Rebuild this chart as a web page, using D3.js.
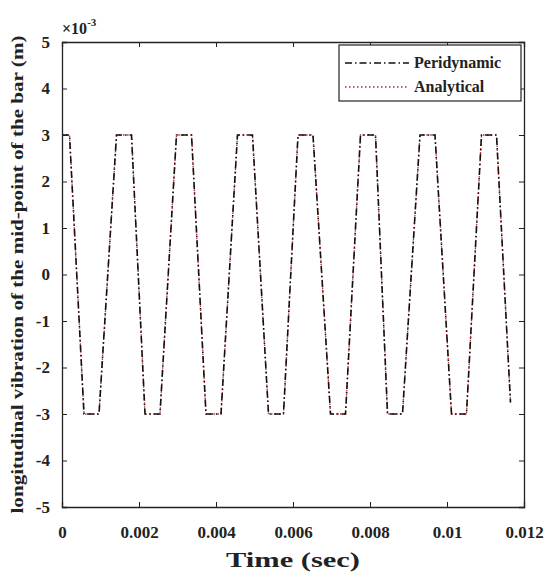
<!DOCTYPE html>
<html>
<head>
<meta charset="utf-8">
<script src="https://cdn.jsdelivr.net/npm/d3@7"></script>
<style>
  body { margin: 0; background: #fff; }
  svg text { font-family: "Liberation Serif", "Times New Roman", serif !important; font-weight: bold; fill: #222; }
</style>
</head>
<body>
<div id="chart"></div>
<script>
// Vertices of the trapezoidal response (time in s, displacement in 1e-3 m)
const timeSec = [0, 0.000195, 0.000571, 0.000961, 0.001416, 0.001805, 0.002156, 0.002545,
  0.002974, 0.003364, 0.003740, 0.004130, 0.004558, 0.004948, 0.005364, 0.005753,
  0.006130, 0.006519, 0.006974, 0.007364, 0.007753, 0.008143, 0.008455, 0.008844,
  0.009299, 0.009688, 0.010117, 0.010506, 0.010896, 0.011286, 0.011649];
const peridynamic = [3, 3, -3, -3, 3, 3, -3, -3, 3, 3, -3, -3, 3, 3, -3, -3,
  3, 3, -3, -3, 3, 3, -3, -3, 3, 3, -3, -3, 3, 3, -2.75];
const analytical = [3, 3, -3, -3, 3, 3, -3, -3, 3, 3, -3, -3, 3, 3, -3, -3,
  3, 3, -3, -3, 3, 3, -3, -3, 3, 3, -3, -3, 3, 3, -2.75];

const xTicks = [0, 0.002, 0.004, 0.006, 0.008, 0.01, 0.012];
const yTicks = [-5, -4, -3, -2, -1, 0, 1, 2, 3, 4, 5];
const legendLabels = ['Peridynamic', 'Analytical'];

const W = 549, H = 572;
const margin = { left: 62, right: 25, top: 42, bottom: 65 };
const iw = W - margin.left - margin.right;
const ih = H - margin.top - margin.bottom;

const svg = d3.select('#chart').append('svg')
  .attr('width', W).attr('height', H);

const x = d3.scaleLinear().domain([0, 0.012]).range([margin.left, margin.left + iw]);
const y = d3.scaleLinear().domain([-5, 5]).range([margin.top + ih, margin.top]);

// Series
const pts = s => timeSec.map((t, i) => [t, s[i]]);
const line = d3.line().x(d => x(d[0])).y(d => y(d[1]));

svg.append('path')
  .datum(pts(analytical))
  .attr('fill', 'none')
  .attr('stroke', '#c0282d')
  .attr('stroke-width', 1.3)
  .attr('stroke-dasharray', '1.5,2.5')
  .attr('d', line);

svg.append('path')
  .datum(pts(peridynamic))
  .attr('fill', 'none')
  .attr('stroke', '#111')
  .attr('stroke-width', 1.6)
  .attr('stroke-dasharray', '7,3,1.5,3')
  .attr('d', line);

// Axes (ticks inward, mirrored on top and right)
const fmtX = d => d === 0 ? '0' : String(+d.toFixed(3));
const gx = svg.append('g').attr('transform', `translate(0,${margin.top + ih})`)
  .call(d3.axisBottom(x).tickValues(xTicks).tickSize(-5).tickPadding(19).tickFormat(fmtX));
const gxt = svg.append('g').attr('transform', `translate(0,${margin.top})`)
  .call(d3.axisTop(x).tickValues(xTicks).tickSize(-5).tickFormat(''));
const gy = svg.append('g').attr('transform', `translate(${margin.left},0)`)
  .call(d3.axisLeft(y).tickValues(yTicks).tickSize(-5).tickPadding(12).tickFormat(d => String(d)));
const gyr = svg.append('g').attr('transform', `translate(${margin.left + iw},0)`)
  .call(d3.axisRight(y).tickValues(yTicks).tickSize(-5).tickFormat(''));

[gx, gxt, gy, gyr].forEach(g => {
  g.select('.domain').attr('stroke', '#222').attr('stroke-width', 1.3);
  g.selectAll('.tick line').attr('stroke', '#222');
  g.selectAll('.tick text').attr('font-size', 17).attr('fill', '#222');
});

// Exponent
const ex = svg.append('text').attr('x', margin.left).attr('y', 34).attr('font-size', 16);
ex.append('tspan').text('×10');
ex.append('tspan').attr('dy', -8).attr('font-size', 11).text('-3');

// Axis labels
svg.append('text')
  .attr('x', margin.left + iw / 2).attr('y', 567)
  .attr('text-anchor', 'middle').attr('font-size', 22)
  .attr('textLength', 134).attr('lengthAdjust', 'spacingAndGlyphs')
  .text('Time (sec)');

svg.append('text')
  .attr('transform', `translate(23,${margin.top + ih / 2}) rotate(-90)`)
  .attr('text-anchor', 'middle').attr('font-size', 17)
  .attr('textLength', 478).attr('lengthAdjust', 'spacingAndGlyphs')
  .text('longitudinal vibration of the mid-point of the bar (m)');

// Legend
const lg = svg.append('g');
lg.append('rect')
  .attr('x', 339).attr('y', 45).attr('width', 182).attr('height', 56)
  .attr('fill', '#fff').attr('stroke', '#222').attr('stroke-width', 1.2);
const legendStyles = [
  { stroke: '#111', dash: '7,3,1.5,3', w: 1.6 },
  { stroke: '#c0282d', dash: '1.5,2.5', w: 1.3 }
];
legendLabels.forEach((lab, i) => {
  const yy = 63 + i * 24;
  lg.append('line')
    .attr('x1', 345).attr('x2', 409).attr('y1', yy).attr('y2', yy)
    .attr('stroke', legendStyles[i].stroke)
    .attr('stroke-width', legendStyles[i].w)
    .attr('stroke-dasharray', legendStyles[i].dash);
  lg.append('text')
    .attr('x', 414).attr('y', yy + 5)
    .attr('font-size', 16)
    .text(lab);
});
</script>
</body>
</html>
